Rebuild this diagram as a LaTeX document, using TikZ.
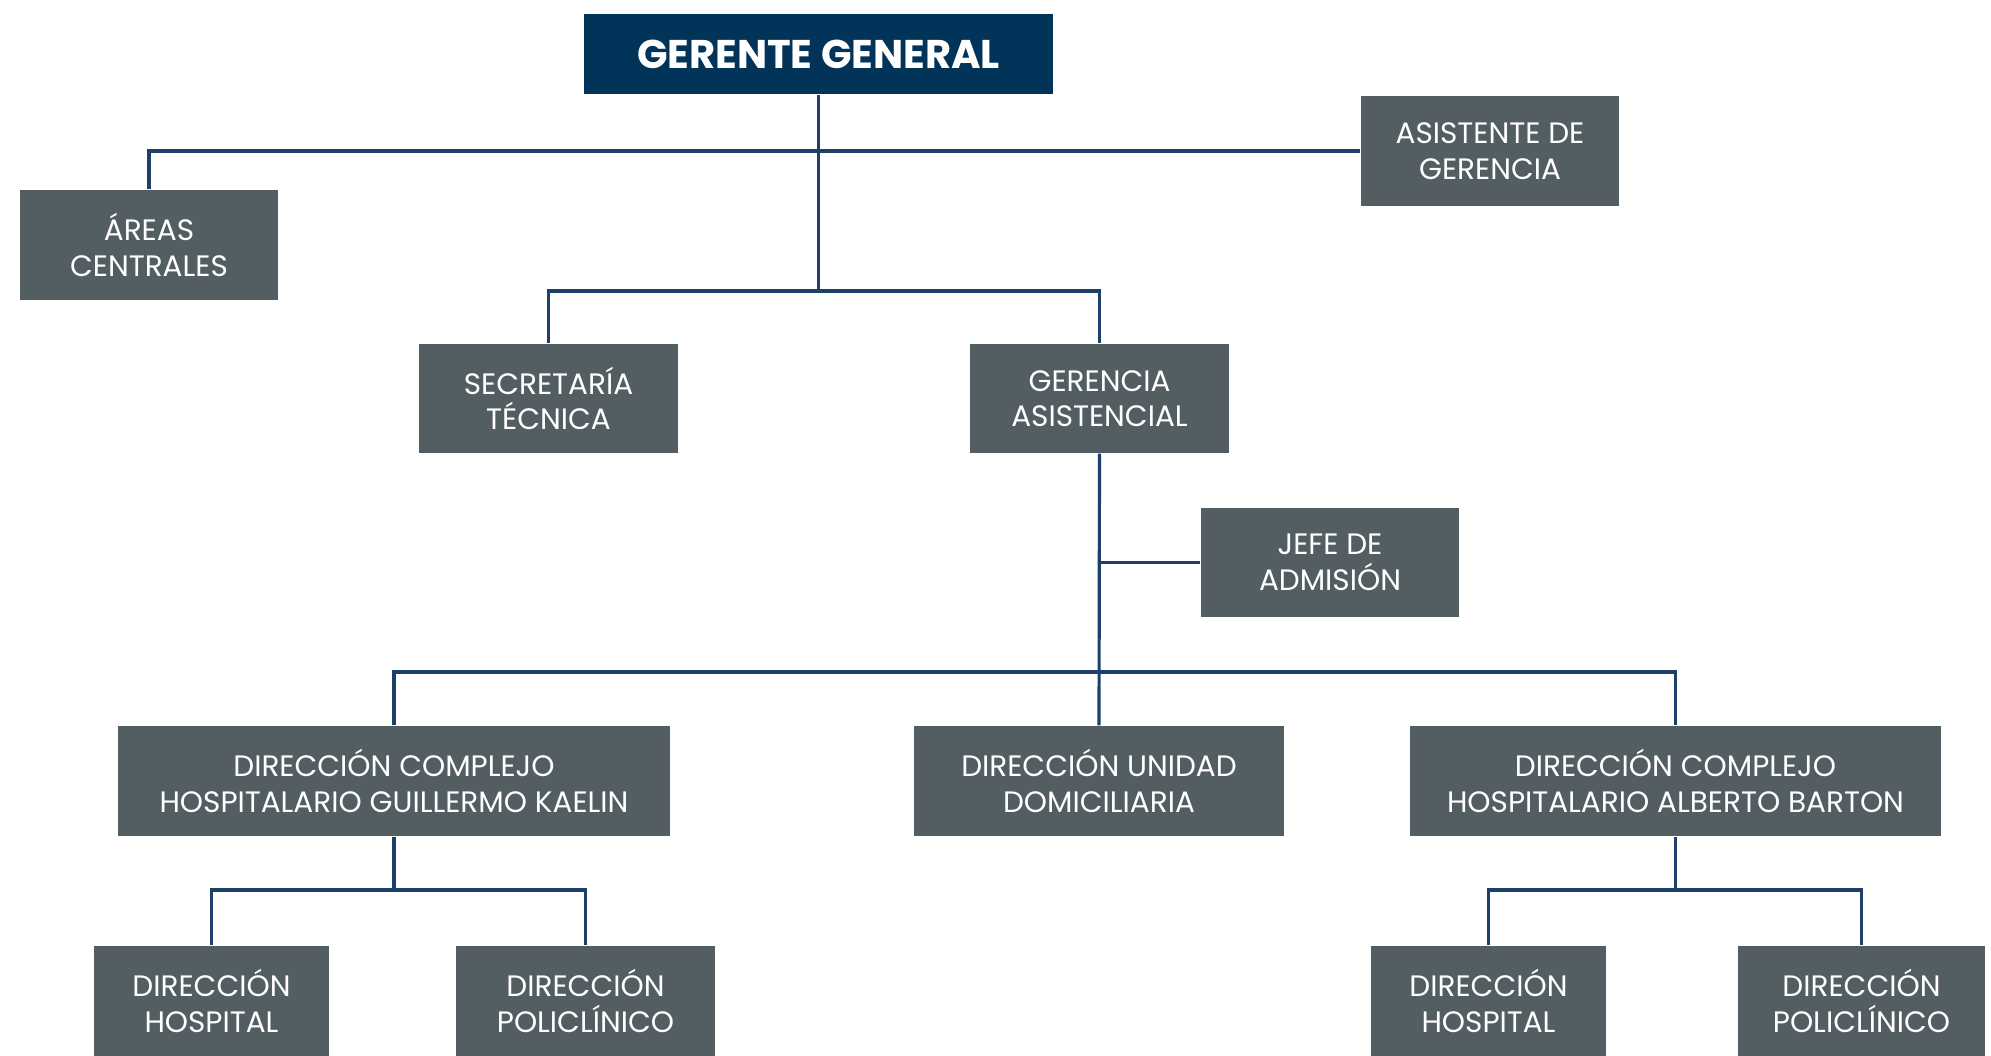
\documentclass[tikz,border=0pt]{standalone}
\usepackage{fontspec}
\setmainfont{Poppins}
\definecolor{navy}{HTML}{02345A}
\definecolor{slate}{HTML}{525E62}
\definecolor{wire}{HTML}{1E4068}
\begin{document}
\begin{tikzpicture}[
		box/.style={rectangle, fill=slate, text=white, align=center, inner sep=0pt, font=\fontsize{8.4}{10.1}\selectfont},
		head/.style={rectangle, fill=navy, text=white, align=center, inner sep=0pt, font=\fontsize{11.4}{14}\selectfont\bfseries},
		link/.style={draw=wire, line width=0.9pt}]
			\useasboundingbox (0,0) rectangle (19.91,-10.55);
			\clip (0,0) rectangle (19.91,-10.55);

			\node (gerente) at (8.185,-0.54) [head, minimum width=4.69cm, minimum height=0.80cm] {GERENTE GENERAL};
			\node (areas) at (1.49,-2.45) [box, minimum width=2.58cm, minimum height=1.10cm] {ÁREAS\\CENTRALES};
			\node (asistente) at (14.90,-1.51) [box, minimum width=2.58cm, minimum height=1.10cm] {ASISTENTE DE\\GERENCIA};
			\node (secretaria) at (5.485,-3.985) [box, minimum width=2.59cm, minimum height=1.09cm] {SECRETARÍA\\TÉCNICA};
			\node (gerencia) at (10.995,-3.985) [box, minimum width=2.59cm, minimum height=1.09cm] {GERENCIA\\ASISTENCIAL};
			\node (jefe) at (13.30,-5.625) [box, minimum width=2.58cm, minimum height=1.09cm] {JEFE DE\\ADMISIÓN};

			\node (kaelin) at (3.94,-7.81) [box, minimum width=5.52cm, minimum height=1.10cm] {DIRECCIÓN COMPLEJO\\HOSPITALARIO GUILLERMO KAELIN};
			\node (domicilio) at (10.99,-7.81) [box, minimum width=3.70cm, minimum height=1.10cm] {DIRECCIÓN UNIDAD\\DOMICILIARIA};
			\node (barton) at (16.755,-7.81) [box, minimum width=5.31cm, minimum height=1.10cm] {DIRECCIÓN COMPLEJO\\HOSPITALARIO ALBERTO BARTON};

			\node (hospitalk) at (2.115,-10.01) [box, minimum width=2.35cm, minimum height=1.10cm] {DIRECCIÓN\\HOSPITAL};
			\node (policlinicok) at (5.855,-10.01) [box, minimum width=2.59cm, minimum height=1.10cm] {DIRECCIÓN\\POLICLÍNICO};
			\node (hospitalb) at (14.885,-10.01) [box, minimum width=2.35cm, minimum height=1.10cm] {DIRECCIÓN\\HOSPITAL};
			\node (policlinicob) at (18.615,-10.01) [box, minimum width=2.47cm, minimum height=1.10cm] {DIRECCIÓN\\POLICLÍNICO};

			% junctions
			\coordinate (top) at (8.185,-2.91);
			\coordinate (mid) at (10.995,-6.72);
			\coordinate (lowk) at (3.94,-8.90);
			\coordinate (lowb) at (16.755,-8.90);

			\draw[link] (areas.north) |- (asistente.west);
			\draw[link] (gerente.south) -- (top);
			\draw[link] (secretaria.north) |- (top) -| (gerencia.north);
			\draw[link] (gerencia.south) -- (domicilio.north);
			\draw[link] (jefe.west) -- (jefe.west -| gerencia.south);
			\draw[link] (kaelin.north) |- (mid) -| (barton.north);
			\draw[link] (kaelin.south) -- (lowk);
			\draw[link] (hospitalk.north) |- (lowk) -| (policlinicok.north);
			\draw[link] (barton.south) -- (lowb);
			\draw[link] (hospitalb.north) |- (lowb) -| (policlinicob.north);
		\end{tikzpicture}
\end{document}
